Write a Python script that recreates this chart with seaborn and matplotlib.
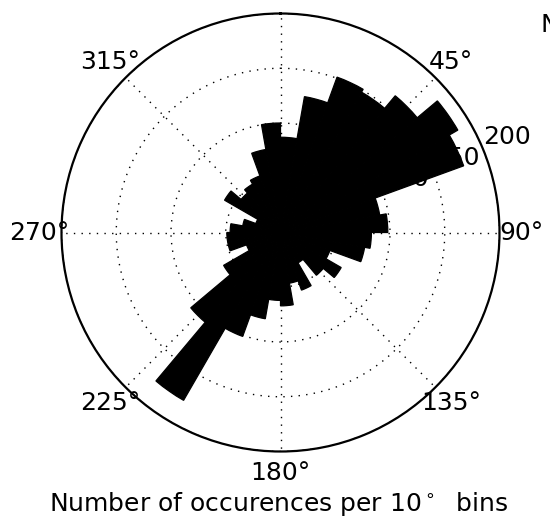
import numpy as np
import pandas as pd
import matplotlib
matplotlib.use('Agg')
import matplotlib.pyplot as plt
import seaborn as sns

# ---- data ----
bin_starts_deg = list(range(0, 360, 10))
counts = [87, 126, 151, 148, 163, 187, 178, 92, 98,
          83, 78, 48, 64, 51, 32, 56, 47, 67,
          62, 80, 101, 177, 107, 60, 33, 49, 49,
          46, 35, 24, 59, 47, 51, 55, 77, 100]
theta_tick_deg = [0, 45, 90, 135, 180, 225, 270, 315]
theta_tick_labels = ['', '45°', '90°', '135°', '180°', '225°', '270°', '315°']
r_ticks = [50, 100, 150, 200]
r_tick_labels = ['50', '100', '150', '200']
xlabel_text = 'Number of occurences per 10$^\\circ$  bins'
corner_text = 'N'

sns.set_theme(style='white')
plt.rcParams['font.family'] = ['DejaVu Sans']
plt.rcParams['mathtext.fontset'] = 'dejavusans'
plt.rcParams['text.color'] = 'black'
plt.rcParams['xtick.color'] = 'black'
plt.rcParams['ytick.color'] = 'black'
plt.rcParams['xtick.labelcolor'] = 'black'
plt.rcParams['ytick.labelcolor'] = 'black'

W, H = 550, 526
fig = plt.figure(figsize=(W / 100, H / 100), dpi=100)
cx, cy, R = 280.5, 232.5, 219.0
ax = fig.add_axes([(cx - R) / W, 1 - (cy + R) / H, 2 * R / W, 2 * R / H], projection='polar')
ax.set_theta_zero_location('N')
ax.set_theta_direction(-1)

df = pd.DataFrame({
    'theta': np.deg2rad(np.array(bin_starts_deg, dtype=float) + 5),
    'count': np.array(counts, dtype=float),
})
sns.histplot(data=df, x='theta', weights='count', bins=36,
             binrange=(0, 2 * np.pi), ax=ax, color='black',
             edgecolor='black', linewidth=0.9, alpha=1, zorder=5)

ax.set_ylim(0, 200)
ax.set_yticks(r_ticks)
ax.set_yticklabels(r_tick_labels, fontsize=18, color='black')
ax.set_rlabel_position(67.5)
ax.set_xticks(np.deg2rad(theta_tick_deg))
ax.set_xticklabels([])
ax.grid(True, linestyle=(0, (1, 4.5)), color='black', linewidth=1.0)
ax.spines['polar'].set_color('black')
ax.spines['polar'].set_linewidth(1.6)
ax.set_xlabel('')
ax.set_ylabel('')

for deg, lab in zip(theta_tick_deg, theta_tick_labels):
    ax.text(np.deg2rad(deg), 220, lab, ha='center', va='center', fontsize=18,
            color='black', clip_on=False)

fig.text(0.507, 1 - 511 / H, xlabel_text, ha='center', va='baseline',
         fontsize=18, color='black')
fig.text(540.5 / W, 1 - 31.6 / H, corner_text, ha='left', va='baseline',
         fontsize=18, color='black')

fig.savefig('out.png', dpi=100)
